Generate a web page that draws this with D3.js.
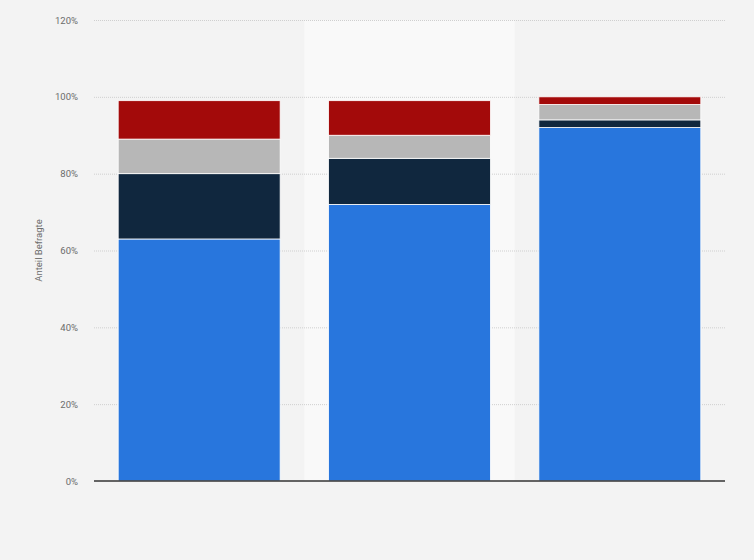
<!DOCTYPE html>
<html>
<head>
<meta charset="utf-8">
<style type="text/css">
body {
  margin: 0;
  background: #f3f3f3;
  font-family: 'Roboto', 'Helvetica', sans-serif;
}
</style>
</head>
<body>
<script src="https://d3js.org/d3.v7.min.js"></script>
<script type="text/javascript">

// categories (no axis labels visible in the picture)
const categories = ['Gruppe 1', 'Gruppe 2', 'Gruppe 3'];
const seriesNames = ['s1', 's2', 's3', 's4'];
const s1 = [63, 72, 92];
const s2 = [17, 12, 2];
const s3 = [9, 6, 4];
const s4 = [10, 9, 2];
const colors = ['#2876dd', '#10273e', '#b7b7b7', '#a30a0a'];
const yTicks = [0, 20, 40, 60, 80, 100, 120];
const highlighted = 'Gruppe 2';

const table = categories.map(function(c, i) {
  return {cat: c, s1: s1[i], s2: s2[i], s3: s3[i], s4: s4[i]};
});

var margin = {top: 20, right: 29, bottom: 79, left: 94},
    width = 754 - margin.left - margin.right,
    height = 560 - margin.top - margin.bottom;

var svg = d3.select('body').append('svg')
    .attr('width', 754)
    .attr('height', 560);

svg.append('rect')
    .attr('width', 754).attr('height', 560)
    .attr('fill', '#f3f3f3');

var g = svg.append('g')
    .attr('transform', 'translate(' + margin.left + ',' + margin.top + ')');

var x = d3.scaleBand()
    .domain(categories)
    .range([0, width])
    .paddingInner(0.23)
    .paddingOuter(0.115);

var band = d3.scaleBand()
    .domain(categories)
    .range([0, width]);

var y = d3.scaleLinear()
    .domain([0, 120])
    .range([height, 0]);

// hover highlight band
g.append('rect')
    .attr('x', band(highlighted))
    .attr('y', 0)
    .attr('width', band.bandwidth())
    .attr('height', height)
    .attr('fill', '#f9f9f9');

// grid lines
g.selectAll('.grid')
    .data(yTicks.filter(function(d) { return d > 0; }))
  .enter().append('line')
    .attr('x1', 0)
    .attr('x2', width)
    .attr('y1', function(d) { return y(d) + 0.5; })
    .attr('y2', function(d) { return y(d) + 0.5; })
    .attr('stroke', '#cfcfcf')
    .attr('stroke-width', 1)
    .attr('stroke-dasharray', '1,1');

// tick labels
g.selectAll('.ytick')
    .data(yTicks)
  .enter().append('text')
    .attr('x', -16)
    .attr('y', function(d) { return y(d) + 3.5; })
    .attr('text-anchor', 'end')
    .attr('font-size', '9.5px')
    .attr('fill', '#6b6b6b')
    .text(function(d) { return d + '%'; });

// axis title
g.append('text')
    .attr('transform', 'translate(' + (-52) + ',' + (height / 2) + ') rotate(-90)')
    .attr('text-anchor', 'middle')
    .attr('font-size', '9.5px')
    .attr('fill', '#6b6b6b')
    .text('Anteil Befragte');

// stacked bars
var stacked = d3.stack().keys(seriesNames)(table);

g.selectAll('.serie')
    .data(stacked)
  .enter().append('g')
    .attr('fill', function(d, i) { return colors[i]; })
  .selectAll('rect')
    .data(function(d) { return d; })
  .enter().append('rect')
    .attr('x', function(d) { return x(d.data.cat); })
    .attr('y', function(d) { return y(d[1]); })
    .attr('width', x.bandwidth())
    .attr('height', function(d) { return y(d[0]) - y(d[1]); })
    .attr('stroke', '#ffffff')
    .attr('stroke-width', 0.8);

// baseline
g.append('line')
    .attr('x1', 0)
    .attr('x2', width)
    .attr('y1', y(0))
    .attr('y2', y(0))
    .attr('stroke', '#333333')
    .attr('stroke-width', 1.5);

</script>
</body>
</html>
